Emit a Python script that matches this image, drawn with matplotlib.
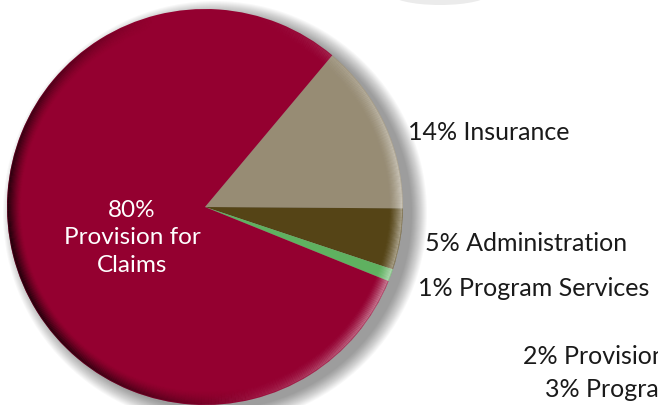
import matplotlib.pyplot as plt
from matplotlib.patches import Circle, Ellipse
from matplotlib.collections import LineCollection
import numpy as np

# shares of spending
categories = ['Insurance', 'Administration', 'Program Services', 'Provision for Claims']
shares = [14, 5, 1, 80]
colors = ['#978c74', '#554416', '#5fb160', '#940030']

# text from a neighbouring chart, cut off at the right edge
other_labels = ['2% Provision for Claims', '3% Program Services']

W, H = 658, 406
fig = plt.figure(figsize=(W / 100, H / 100), dpi=100)
ax = fig.add_axes([0, 0, 1, 1])

cx, cy, r = 205, 198, 198

# faint shape peeking in at the top
ax.add_patch(Ellipse((440, 412), 100, 24, color='#ebebeb', lw=0, zorder=0))

# soft drop shadow
for k in range(16):
    ax.add_patch(Circle((cx + 10, cy - 6), r + 14 - k, color='#000000',
                        alpha=0.028, lw=0, zorder=1))

ax.pie(shares, colors=colors, startangle=50, counterclock=False,
       center=(cx, cy), radius=r, frame=True,
       wedgeprops=dict(linewidth=0, zorder=2))
ax.set_xlim(0, W)
ax.set_ylim(0, H)
ax.set_aspect('equal')
ax.axis('off')

# bevel: dark rim on the left, light rim on the right
t = np.linspace(0, 2 * np.pi, 361)
dark = np.clip(-np.cos(t - np.radians(15)), 0, 1) ** 1.2
light = np.clip(np.cos(t + np.radians(10)), 0, 1) ** 2
for k in range(12):
    rr = r - 1 - k * 1.1
    fade = (1 - k / 12) ** 1.5
    x = cx + rr * np.cos(t)
    y = cy + rr * np.sin(t)
    pts = np.column_stack([x, y]).reshape(-1, 1, 2)
    segs = np.concatenate([pts[:-1], pts[1:]], axis=1)
    cd = np.zeros((len(segs), 4))
    cd[:, 3] = 0.6 * dark[:-1] * fade
    cl = np.ones((len(segs), 4))
    cl[:, 3] = 0.35 * light[:-1] * fade
    ax.add_collection(LineCollection(segs, colors=cd, lw=1.3, zorder=3))
    ax.add_collection(LineCollection(segs, colors=cl, lw=1.3, zorder=4))

font = 'Lato'
fs = 18
ax.text(408, H - 132, f'{shares[0]}% {categories[0]}', fontsize=fs,
        family=font, va='center', ha='left', color='#1a1a1a')
ax.text(425, H - 244, f'{shares[1]}% {categories[1]}', fontsize=fs,
        family=font, va='center', ha='left', color='#1a1a1a')
ax.text(418, H - 289, f'{shares[2]}% {categories[2]}', fontsize=fs,
        family=font, va='center', ha='left', color='#1a1a1a')
ax.text(132, H - 238, f'{shares[3]}%\nProvision for\nClaims', fontsize=17.5,
        family=font, va='center', ha='center', color='white', linespacing=1.4)

ax.text(523, H - 357, other_labels[0], fontsize=fs, family=font,
        va='center', ha='left', color='#1a1a1a')
ax.text(545, H - 390, other_labels[1], fontsize=fs, family=font,
        va='center', ha='left', color='#1a1a1a')

fig.savefig('out.png', dpi=100)
